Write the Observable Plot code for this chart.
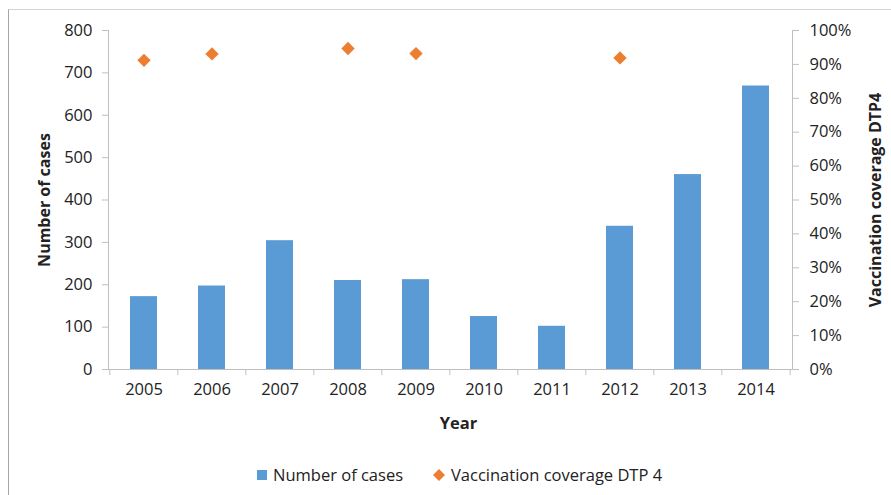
<!DOCTYPE html>
<html>
<head>
<meta charset="utf-8">
<script src="https://cdn.jsdelivr.net/npm/d3@7"></script>
<script src="https://cdn.jsdelivr.net/npm/@observablehq/plot@0.6"></script>
<style>
  html, body { margin: 0; padding: 0; background: #fff; }
  body { width: 891px; height: 495px; overflow: hidden; position: relative; font-family: "Open Sans", sans-serif; }
  #border { position: absolute; left: 8px; top: 9px; width: 1000px; height: 1000px; border-left: 1px solid #a6a6a6; border-top: 1px solid #d4d4d4; pointer-events: none; }
  #legend { position: absolute; left: 0; top: 455px; width: 891px; height: 40px; font-size: 16.5px; color: #222; }
  #legend .item { position: absolute; top: 8px; display: flex; align-items: center; white-space: nowrap; }
  #legend svg { margin-right: 6px; }
</style>
</head>
<body>
<div id="chart"></div>
<div id="legend"></div>
<div id="border"></div>
<script>
const years = ["2005","2006","2007","2008","2009","2010","2011","2012","2013","2014"];
const cases = [172, 197, 304, 210, 212, 125, 102, 338, 460, 669];
const coverageYears = ["2005","2006","2008","2009","2012"];
const coverage = [91.2, 93.1, 94.7, 93.2, 91.9];
const yTicks = [0,100,200,300,400,500,600,700,800];
const pctTicks = [0,10,20,30,40,50,60,70,80,90,100];

const blue = "#5B9BD5", orange = "#ED7D31", axisGray = "#bfbfbf", textColor = "#222";

const barData = years.map((y, i) => ({year: y, cases: cases[i]}));
// coverage plotted on the shared y scale: 100% corresponds to 800
const covData = coverageYears.map((y, i) => ({year: y, v: coverage[i] * 8}));

const W = 891, H = 455;
const mL = 108, mR = 99, mT = 30, mB = H - 369;
const half = (W - mL - mR) / years.length / 2;

const plot = Plot.plot({
  width: W, height: H,
  marginLeft: mL, marginRight: mR, marginTop: mT, marginBottom: mB,
  style: {fontFamily: "Open Sans, sans-serif", fontSize: "16.5px", color: textColor, background: "white", overflow: "visible"},
  x: {domain: years, paddingInner: 0.6, paddingOuter: 0.3, align: 0.5},
  y: {domain: [0, 800]},
  marks: [
    Plot.barY(barData, {x: "year", y: "cases", fill: blue}),
    Plot.frame({anchor: "left", stroke: axisGray}),
    Plot.frame({anchor: "right", stroke: axisGray}),
    Plot.frame({anchor: "bottom", stroke: axisGray}),
    Plot.axisY({anchor: "left", ticks: yTicks, tickSize: 6, tickPadding: 10, stroke: axisGray, fill: textColor, label: null}),
    Plot.axisY({anchor: "right", ticks: pctTicks.map(p => p * 8), tickSize: 6, tickPadding: 11, stroke: axisGray, fill: textColor, label: null,
      tickFormat: d => Math.round(d / 8) + "%"}),
    Plot.axisX({ticks: years, tickSize: 6, dx: -half, stroke: axisGray, tickFormat: () => "", label: null}),
    Plot.axisX({ticks: [years[years.length - 1]], tickSize: 6, dx: half, stroke: axisGray, tickFormat: () => "", label: null}),
    Plot.axisX({ticks: years, tickSize: 0, tickPadding: 14, fill: textColor, label: null}),
    Plot.dot(covData, {x: "year", y: "v", symbol: "diamond2", r: 6, fill: orange, stroke: "none"}),
    Plot.text(["Number of cases"], {frameAnchor: "left", textAnchor: "middle", dx: -64, rotate: -90, fontWeight: "bold", fontSize: 16, fill: textColor}),
    Plot.text(["Vaccination coverage DTP4"], {frameAnchor: "right", textAnchor: "middle", dx: 83, rotate: -90, fontWeight: "bold", fontSize: 16, fill: textColor}),
    Plot.text(["Year"], {frameAnchor: "bottom", dy: 59, dx: 8, fontWeight: "bold", fontSize: 16.5, fill: textColor})
  ]
});
document.getElementById("chart").appendChild(plot);

const legend = document.getElementById("legend");
legend.innerHTML = `
  <div class="item" style="left:257px"><svg width="10" height="10"><rect width="10" height="10" fill="${blue}"/></svg><span>Number of cases</span></div>
  <div class="item" style="left:433px"><svg width="12" height="12"><path d="M6 0 L12 6 L6 12 L0 6 Z" fill="${orange}"/></svg><span>Vaccination coverage DTP 4</span></div>`;
</script>
</body>
</html>
